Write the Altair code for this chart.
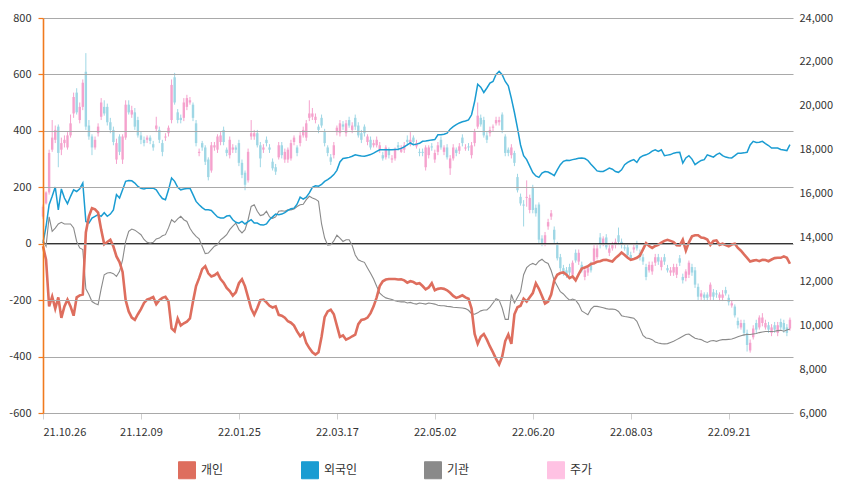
import altair as alt
import pandas as pd

FONT = "Noto Sans CJK KR"

X_LABELS = ["21.10.26", "21.12.09", "22.01.25", "22.03.17",
            "22.05.02", "22.06.20", "22.08.03", "22.09.21"]
LABEL_STEP = 32

SERIES = ["개인", "외국인", "기관", "주가"]
SERIES_FILL = ["#DE6E5E", "#1A9CD2", "#8A8A8A", "#FFC2E3"]
SERIES_STROKE = ["#DE6E5E", "#1A9CD2", "#8A8A8A", "#E0529E"]
PRICE_UP = "#F5A2CD"
PRICE_DOWN = "#9FD7E5"
AXIS_ORANGE = "#F07A1E"

# 개인 (left axis)
RETAIL = [
    -9, -57, -222, -187, -230, -190, -263, -222, -198, -222,
    -255, -190, -183, -180, 40, 97, 126, 122, 110, 50,
    -2, 6, 14, -10, -45, -65, -100, -200, -240, -262,
    -270, -250, -232, -210, -198, -194, -189, -214, -200, -192,
    -188, -205, -300, -310, -265, -290, -282, -276, -265, -205,
    -150, -122, -90, -80, -105, -116, -112, -104, -125, -138,
    -157, -168, -184, -172, -140, -126, -151, -190, -230, -252,
    -228, -200, -198, -208, -220, -226, -222, -252, -255, -262,
    -275, -280, -290, -311, -328, -317, -352, -370, -385, -393,
    -385, -330, -260, -240, -234, -250, -290, -330, -325, -340,
    -335, -328, -322, -285, -270, -268, -262, -246, -222, -190,
    -150, -133, -127, -125, -125, -125, -127, -126, -130, -138,
    -133, -136, -142, -140, -150, -162, -155, -140, -165, -160,
    -158, -160, -165, -174, -185, -192, -188, -183, -190, -195,
    -230, -320, -355, -330, -320, -340, -364, -385, -408, -428,
    -400, -345, -322, -355, -250, -225, -220, -195, -205, -190,
    -175, -140, -160, -185, -212, -205, -180, -130, -110, -104,
    -102, -110, -122, -116, -130, -108, -88, -84, -80, -72,
    -69, -64, -62, -58, -57, -60, -63, -51, -42, -31,
    -40, -50, -57, -54, -50, -42, -20, 2, -8, -15,
    -8, -4, 4, 10, 14, 10, 6, -5, -6, 14,
    -24, 5, 26, 30, 30, 22, 20, 15, -4, 10,
    12, -4, 0, -5, -9, -3, 0, -15, -25, -38,
    -50, -63, -60, -58, -62, -57, -58, -62, -56, -51,
    -50, -50, -45, -50, -71,
]

# 외국인 (left axis)
FOREIGN = [
    2, 61, 138, 168, 201, 120, 194, 162, 142, 168,
    191, 185, 195, 215, 79, 73, 91, 97, 103, 97,
    110, 97, 105, 120, 174, 162, 191, 221, 224, 223,
    215, 203, 196, 194, 197, 197, 197, 191, 174, 160,
    156, 191, 233, 221, 200, 191, 194, 196, 197, 174,
    150, 138, 128, 120, 120, 118, 106, 95, 91, 91,
    98, 100, 85, 76, 73, 79, 70, 78, 85, 73,
    73, 67, 66, 70, 85, 95, 105, 103, 105, 110,
    118, 124, 126, 140, 165, 158, 165, 180, 200, 205,
    204, 210, 221, 227, 235, 245, 260, 290, 302, 304,
    306, 310, 315, 313, 311, 310, 313, 316, 321, 327,
    333, 333, 333, 333, 333, 334, 335, 338, 343, 350,
    357, 351, 353, 356, 363, 364, 366, 368, 369, 386,
    386, 388, 392, 406, 415, 422, 428, 432, 435, 439,
    457, 504, 565, 555, 536, 552, 569, 575, 600, 611,
    599, 575, 560, 515, 465, 410, 350, 312, 298, 275,
    252, 240, 235, 250, 256, 254, 248, 241, 262, 280,
    292, 296, 295, 298, 300, 303, 304, 302, 295, 282,
    270, 258, 256, 256, 262, 268, 264, 256, 253, 262,
    280, 288, 294, 298, 288, 305, 312, 315, 320, 328,
    333, 327, 333, 312, 314, 316, 321, 323, 324, 286,
    304, 312, 300, 280, 288, 295, 298, 315, 311, 307,
    316, 321, 312, 307, 305, 304, 312, 321, 321, 322,
    324, 350, 363, 359, 360, 363, 355, 348, 339, 339,
    339, 334, 332, 330, 351,
]

# 기관 (left axis)
INSTITUTION = [
    14, -9, 95, 44, 55, 70, 76, 70, 70, 70,
    56, 8, -15, -21, -160, -180, -205, -212, -216, -160,
    -110, -104, -102, -106, -116, -98, -57, 8, 44, 52,
    48, 40, 32, 15, 5, 2, 5, 17, 20, 28,
    32, 56, 85, 76, 88, 97, 85, 79, 55, 38,
    26, 17, -9, -35, -33, -21, -9, -4, 14, 22,
    32, 50, 62, 73, 50, 38, 50, 85, 132, 138,
    115, 100, 103, 115, 95, 90, 95, 115, 117, 115,
    120, 120, 123, 132, 138, 140, 156, 168, 162, 158,
    150, 70, 20, -5, -4, 10, 30, 20, 8, 14,
    14, -6, -40, -57, -62, -66, -86, -105, -125, -151,
    -175, -185, -192, -195, -198, -202, -205, -206, -206, -210,
    -208, -212, -214, -210, -212, -214, -210, -212, -214, -218,
    -220, -220, -222, -223, -225, -226, -227, -228, -230, -236,
    -248, -250, -245, -238, -235, -235, -225, -210, -195, -200,
    -228, -268, -268, -180, -210, -190, -170, -110, -85, -75,
    -70, -75, -62, -55, -65, -70, -95, -130, -150, -170,
    -178, -190, -200, -196, -200, -215, -238, -245, -252, -232,
    -222, -222, -224, -227, -230, -232, -232, -233, -240, -255,
    -258, -260, -262, -264, -275, -300, -325, -334, -336, -340,
    -348, -352, -354, -355, -354, -350, -346, -340, -334, -328,
    -322, -320, -328, -335, -338, -340, -346, -350, -345, -343,
    -346, -342, -340, -340, -339, -338, -334, -330, -326, -323,
    -322, -322, -320, -318, -315, -313, -311, -311, -311, -310,
    -308, -307, -310, -306, -302,
]

# 주가 (right axis) daily candles
OPEN = [
    14950, 15550, 16050, 18000, 18450, 19050, 18000, 18300, 18100, 18650,
    19650, 20600, 19350, 19950, 21550, 19100, 18600, 18100, 18750, 19500,
    19950, 19950, 19250, 18900, 17550, 18600, 17550, 18550, 20050, 19600,
    19700, 19350, 18650, 18450, 18450, 18550, 18250, 18950, 18900, 18300,
    18550, 18750, 19350, 21300, 19700, 19450, 19450, 19950, 20150, 20050,
    19200, 17850, 18300, 18100, 17550, 17050, 18100, 18000, 18350, 18900,
    18000, 17750, 18000, 18100, 18300, 17400, 16950, 16600, 18600, 18600,
    18750, 18200, 18000, 18450, 18100, 17450, 17200, 17650, 18200, 17550,
    17550, 17600, 18350, 18100, 18300, 18650, 18550, 19450, 19500, 19350,
    19050, 19450, 18800, 18100, 17650, 17750, 18800, 18750, 19150, 18750,
    19350, 18900, 19450, 19100, 18750, 19050, 18350, 18450, 18200, 18200,
    18000, 17750, 17650, 18000, 17550, 17600, 18200, 17900, 18000, 18450,
    18250, 18550, 18150, 17900, 17900, 17200, 17750, 18150, 17550, 17900,
    18450, 17900, 18100, 17150, 17600, 18000, 17950, 18550, 18050, 18150,
    17750, 18300, 19050, 19450, 19350, 18650, 18750, 19000, 19200, 19250,
    19600, 18600, 18000, 17750, 17850, 16750, 15850, 15500, 15800, 15250,
    16250, 15350, 15500, 13950, 13750, 14500, 14950, 14350, 13650, 13100,
    12600, 12500, 12650, 12300, 13300, 12900, 12750, 12200, 12400, 12750,
    12900, 13100, 14000, 13750, 14000, 13300, 13500, 13650, 14100, 13800,
    13550, 13550, 13200, 13450, 13700, 13300, 13100, 12650, 12500, 12450,
    12850, 13100, 12650, 13100, 12600, 12400, 12400, 12300, 13050, 12200,
    12150, 12300, 12650, 12500, 11750, 11300, 11400, 11400, 11300, 11500,
    11450, 11250, 11250, 11600, 11250, 10900, 10850, 10200, 9900, 10100,
    9650, 8850, 9450, 10100, 9900, 10100, 9900, 10000, 9650, 10000,
    9650, 10150, 10100, 9900, 9850,
]
CLOSE = [
    15400, 16050, 17850, 18550, 18900, 17850, 18300, 18450, 18650, 19200,
    20400, 19700, 19950, 21050, 19050, 18600, 18100, 18450, 19050, 20150,
    19650, 19250, 18900, 18350, 18300, 17900, 18600, 20050, 19700, 19800,
    19050, 18650, 18450, 18300, 18550, 18400, 18100, 19100, 18450, 17900,
    18600, 19000, 20950, 20150, 19350, 19350, 20150, 20350, 20250, 19450,
    18300, 17900, 18100, 17450, 16750, 18200, 18200, 18600, 18650, 18350,
    17850, 18450, 18100, 18000, 17400, 16850, 16400, 17900, 18750, 18750,
    18200, 17600, 18100, 18300, 18000, 17150, 17000, 18200, 17750, 17900,
    18000, 18300, 18550, 17850, 18650, 18900, 19200, 19650, 19650, 19500,
    18900, 19100, 18300, 17850, 17450, 18200, 19000, 19200, 19050, 19200,
    19100, 19100, 19050, 18650, 18450, 18750, 18600, 18100, 18300, 18450,
    18200, 17600, 18100, 17750, 17600, 18000, 18100, 18100, 18200, 18350,
    18450, 18350, 18300, 17850, 17850, 18100, 18100, 18100, 17850, 18200,
    18100, 18100, 17650, 17600, 18100, 17850, 18150, 18300, 18100, 18100,
    18200, 18800, 19550, 19150, 18650, 18450, 18900, 19050, 19350, 19350,
    18900, 17850, 17850, 18100, 17400, 16150, 15550, 15450, 15850, 15800,
    15250, 15100, 13900, 13750, 14100, 14700, 15100, 13900, 13050, 12600,
    12400, 12300, 12400, 12850, 12950, 13300, 12500, 12500, 12600, 12500,
    13500, 13500, 13650, 13950, 13550, 13500, 13650, 13800, 13800, 13650,
    13500, 13200, 13050, 13550, 13500, 13100, 12900, 12200, 12750, 12750,
    13100, 12900, 12950, 12900, 12500, 12500, 12650, 12650, 12850, 12050,
    12450, 12850, 12400, 11850, 11300, 11450, 11250, 11250, 11850, 11300,
    11400, 11400, 11400, 11450, 11050, 11000, 10450, 10000, 10100, 9650,
    9100, 9200, 9850, 9800, 10350, 10350, 10100, 9800, 9900, 9800,
    10000, 9900, 9800, 9650, 10250,
]
HIGH = [
    15500, 16100, 18000, 19350, 19100, 19150, 18550, 18650, 18800, 19600,
    20600, 20800, 20150, 21200, 22400, 19350, 18700, 18600, 19200, 20350,
    20250, 20100, 19450, 19050, 18500, 18700, 18700, 20250, 20250, 20000,
    19900, 19500, 18850, 18600, 18650, 18650, 18400, 19500, 19050, 18450,
    18750, 19100, 21200, 21500, 19850, 19600, 20350, 20500, 20400, 20150,
    19350, 18050, 18400, 18200, 17650, 18350, 18350, 18700, 18800, 19050,
    18100, 18600, 18250, 18200, 18450, 17550, 17050, 18050, 19350, 18900,
    18900, 18350, 18250, 18600, 18250, 17600, 17350, 18350, 18350, 18050,
    18100, 18450, 18650, 18200, 18800, 19050, 19350, 20250, 19900, 19650,
    19150, 19600, 18950, 18200, 17800, 18350, 19100, 19350, 19300, 19350,
    19500, 19250, 19600, 19250, 18900, 19150, 18700, 18600, 18450, 18600,
    18350, 17900, 18200, 18100, 17750, 18100, 18350, 18200, 18350, 18650,
    18800, 18650, 18450, 18050, 18050, 18200, 18200, 18300, 18000, 18350,
    18600, 18200, 18250, 17750, 18250, 18100, 18300, 18700, 18250, 18300,
    18350, 18950, 20150, 19600, 19500, 18800, 19050, 19150, 19500, 19500,
    19700, 18700, 18100, 18250, 17950, 16900, 16000, 15700, 16600, 15950,
    16400, 15500, 15600, 14100, 14250, 14850, 15250, 14500, 13800, 13250,
    12750, 12650, 12800, 12950, 13450, 13450, 12900, 12650, 12750, 12900,
    13650, 13650, 14200, 14050, 14150, 13650, 13800, 13950, 14450, 13950,
    13700, 13700, 13350, 13700, 13850, 13450, 13250, 12800, 12900, 12900,
    13250, 13250, 13100, 13250, 12750, 12650, 12800, 12800, 13200, 12350,
    12550, 12950, 12800, 12650, 11900, 11600, 11500, 11500, 11950, 11650,
    11600, 11500, 11600, 11750, 11400, 11150, 10950, 10350, 10250, 10250,
    9800, 9350, 10000, 10250, 10450, 10550, 10250, 10150, 10050, 10150,
    10150, 10300, 10250, 10050, 10350,
]
LOW = [
    14850, 15500, 15950, 17900, 18300, 17200, 17750, 18100, 18000, 18550,
    19450, 19600, 19200, 19800, 18900, 18450, 17750, 18000, 18600, 19350,
    19550, 19100, 18750, 18200, 17350, 17750, 17350, 18450, 19600, 19450,
    18900, 18550, 18250, 18150, 18300, 18250, 17950, 18800, 18300, 17700,
    18400, 18600, 19200, 20050, 19200, 19200, 19300, 19800, 20050, 19300,
    18150, 17700, 17950, 17300, 16600, 16950, 17950, 17850, 18200, 18200,
    17700, 17600, 17850, 17850, 17250, 16700, 16150, 16500, 18450, 18450,
    18100, 17200, 17850, 18150, 17850, 17050, 16850, 17550, 17600, 17400,
    17400, 17500, 18200, 17700, 18150, 18550, 18400, 19300, 19350, 19200,
    18750, 19000, 18150, 17700, 17300, 17600, 18650, 18600, 18900, 18600,
    19000, 18750, 18900, 18550, 18300, 18600, 18200, 18000, 18100, 18100,
    17850, 17500, 17550, 17600, 17400, 17500, 17950, 17850, 17850, 18200,
    18150, 18200, 18050, 17700, 17700, 17050, 17600, 17950, 17400, 17750,
    18000, 17750, 17550, 16850, 17500, 17700, 17800, 18150, 17950, 17950,
    17600, 18150, 18950, 19050, 18550, 18300, 18600, 18850, 19100, 19100,
    18750, 17700, 17700, 17600, 17250, 16050, 15450, 14500, 15400, 15100,
    15100, 14950, 13750, 13600, 13600, 14350, 14800, 13750, 12950, 12450,
    12250, 12150, 12250, 12150, 12850, 12750, 12400, 12050, 12250, 12400,
    12750, 13000, 13500, 13600, 13450, 13150, 13400, 13500, 13650, 13500,
    13400, 13050, 12950, 13300, 13400, 12950, 12750, 12050, 12400, 12300,
    12700, 12750, 12500, 12750, 12400, 12250, 12250, 12150, 12700, 11900,
    12000, 12150, 12250, 11700, 11150, 11150, 11100, 11100, 11150, 11150,
    11250, 11100, 11100, 11350, 10900, 10800, 10350, 9850, 9800, 9500,
    8800, 8750, 9350, 9650, 9800, 9950, 9800, 9650, 9500, 9650,
    9500, 9800, 9650, 9500, 9750,
]

N_DAYS = len(OPEN)

# ---------- data frames ----------
line_rows = []
for name, vals in zip(SERIES[:3], [RETAIL, FOREIGN, INSTITUTION]):
    for d, v in enumerate(vals):
        line_rows.append({"day": d, "value": v, "series": name})
lines_df = pd.DataFrame(line_rows)

candles_df = pd.DataFrame({
    "day": list(range(N_DAYS)),
    "open": OPEN, "close": CLOSE, "high": HIGH, "low": LOW,
})
zero_df = pd.DataFrame({"value": [0]})
legend_df = pd.DataFrame({"series": SERIES})

# ---------- encodings ----------
label_list = "[" + ",".join("'" + s + "'" for s in X_LABELS) + "]"
x_enc = alt.X(
    "day:Q",
    scale=alt.Scale(domain=[0, N_DAYS], nice=False, zero=False),
    axis=alt.Axis(
        values=[i * LABEL_STEP for i in range(len(X_LABELS))],
        labelExpr=label_list + "[round(datum.value / " + str(LABEL_STEP) + ")]",
        title=None, grid=False, tickColor="#d0d0d0", tickSize=6,
        domainColor="#d8d8d8", labelPadding=7, labelFontSize=11,
        labelColor="#333333", labelFont=FONT,
    ),
)


def left_y():
    return alt.Y(
        "value:Q",
        scale=alt.Scale(domain=[-600, 800], nice=False),
        axis=alt.Axis(
            orient="left", values=list(range(-600, 801, 200)), grid=True,
            gridColor="#a9a9a9", domain=True, domainColor=AXIS_ORANGE,
            domainWidth=1.6, tickColor=AXIS_ORANGE, tickWidth=1.2, zindex=1,
            tickSize=5, labelPadding=7, labelExpr="'' + datum.value",
            title=None, labelFontSize=11, labelColor="#333333", labelFont=FONT,
        ),
    )


def right_y(field):
    return alt.Y(
        field + ":Q",
        scale=alt.Scale(domain=[6000, 24000], nice=False, zero=False),
        axis=alt.Axis(
            orient="right", values=list(range(6000, 24001, 2000)),
            labelExpr="format(datum.value, ',')",
            grid=False, domain=False, ticks=False, tickSize=0, labelPadding=6,
            title=None, labelFontSize=11, labelColor="#333333", labelFont=FONT,
        ),
    )


def make_legend():
    return alt.Legend(
        orient="none", legendX=135, legendY=443, direction="horizontal",
        columns=4, gridAlign="all", columnPadding=64, padding=0,
        symbolType="square", symbolSize=289, symbolStrokeWidth=1,
        symbolOpacity=1, title=None, labelFont=FONT, labelFontSize=12,
        labelColor="#333333", labelOffset=5,
    )


color_scale = alt.Scale(domain=SERIES, range=SERIES_FILL)

candle_color = alt.condition("datum.close >= datum.open",
                             alt.value(PRICE_UP), alt.value(PRICE_DOWN))

wicks = alt.Chart(candles_df).mark_rule(strokeWidth=1).encode(
    x=x_enc, y=right_y("low"), y2="high:Q", color=candle_color)
bodies = alt.Chart(candles_df).mark_rule(strokeWidth=2.4).encode(
    x=x_enc, y=right_y("open"), y2="close:Q", color=candle_color)
candles = alt.layer(wicks, bodies)

zero_rule = alt.Chart(zero_df).mark_rule(color="#000000", strokeWidth=1).encode(
    y=left_y())


def series_line(name, width):
    return alt.Chart(lines_df).transform_filter(
        alt.datum.series == name
    ).mark_line(strokeWidth=width).encode(
        x=x_enc, y=left_y(),
        color=alt.Color("series:N", scale=color_scale, legend=make_legend()))


# legend layer (no rows drawn): listed first so its filled-square legend wins
legend_layer = alt.Chart(legend_df).transform_filter("false").mark_square(
    filled=True).encode(
    color=alt.Color("series:N", scale=color_scale, legend=make_legend()),
    stroke=alt.Stroke("series:N",
                      scale=alt.Scale(domain=SERIES, range=SERIES_STROKE),
                      legend=make_legend()),
)

lines = alt.layer(
    legend_layer,
    zero_rule,
    series_line("기관", 1.1),
    series_line("외국인", 1.5),
    series_line("개인", 2.6),
)

chart = alt.layer(candles, lines).resolve_scale(y="independent").properties(
    width=750, height=395,
    padding={"left": 35, "top": 10, "right": 50, "bottom": 70},
    autosize=alt.AutoSizeParams(type="none"),
    background="white",
).configure_view(stroke=None).configure_axisLeft(
    domainColor=AXIS_ORANGE, tickColor=AXIS_ORANGE
)

chart.save("out.html", embed_options={"renderer": "svg", "actions": False})
